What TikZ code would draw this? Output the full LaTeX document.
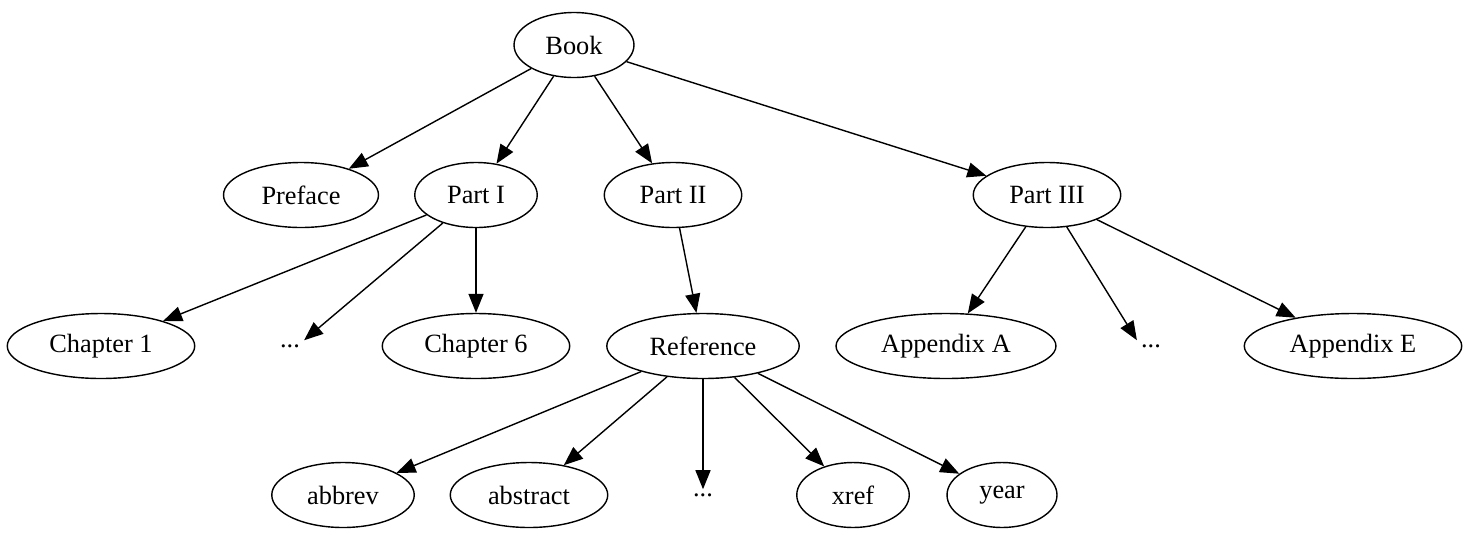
\documentclass[tikz,border=0pt]{standalone}
\usepackage{fontspec}
\setmainfont{Liberation Serif}
\usetikzlibrary{shapes.geometric, arrows.meta}
\tikzset{
  ->,
  >={Triangle[length=0.38cm,width=0.3cm]},
  every node/.style={font=\fontsize{15}{18}\selectfont},
  box/.style={ellipse, draw, thick, minimum height=1.3cm, inner sep=0pt},
  dots/.style={inner sep=2pt},
}
\begin{document}
\begin{tikzpicture}[x=0.02cm, y=-0.02cm, thick]
  \useasboundingbox (0,0) rectangle (1473,542);
  \node[box, minimum width=2.4cm]  (book)  at (574,45)   {Book};
  \node[box, minimum width=3.1cm]  (pref)  at (301,195)  {Preface};
  \node[box, minimum width=2.45cm] (p1)    at (476,195)  {Part I};
  \node[box, minimum width=2.75cm] (p2)    at (673,195)  {Part II};
  \node[box, minimum width=2.95cm] (p3)    at (1047,195) {Part III};
  \node[box, minimum width=3.75cm] (ch1)   at (101,346)  {Chapter 1};
  \node[dots]                      (chd)   at (290,346)  {...};
  \node[box, minimum width=3.75cm] (ch6)   at (476,346)  {Chapter 6};
  \node[box, minimum width=3.85cm] (ref)   at (703,346)  {Reference};
  \node[box, minimum width=4.4cm]  (appa)  at (946,346)  {Appendix A};
  \node[dots]                      (appd)  at (1151,346) {...};
  \node[box, minimum width=4.35cm] (appe)  at (1353,346) {Appendix E};
  \node[box, minimum width=2.85cm] (abbr)  at (343,495)  {abbrev};
  \node[box, minimum width=3.15cm] (abst)  at (529,495)  {abstract};
  \node[dots]                      (refd)  at (703,495)  {...};
  \node[box, minimum width=2.25cm] (xref)  at (853,495)  {xref};
  \node[box, minimum width=2.2cm]  (year)  at (1002,495) {year};

  \draw (book) -- (pref);
  \draw (book) -- (p1);
  \draw (book) -- (p2);
  \draw (book) -- (p3);
  \draw (p1) -- (ch1);
  \draw (p1) -- (chd.north east);
  \draw (p1) -- (ch6);
  \draw (p2) -- (ref);
  \draw (p3) -- (appa);
  \draw (p3) -- (appd.north west);
  \draw (p3) -- (appe);
  \draw (ref) -- (abbr);
  \draw (ref) -- (abst);
  \draw (ref) -- (refd);
  \draw (ref) -- (xref);
  \draw (ref) -- (year);
\end{tikzpicture}
\end{document}
